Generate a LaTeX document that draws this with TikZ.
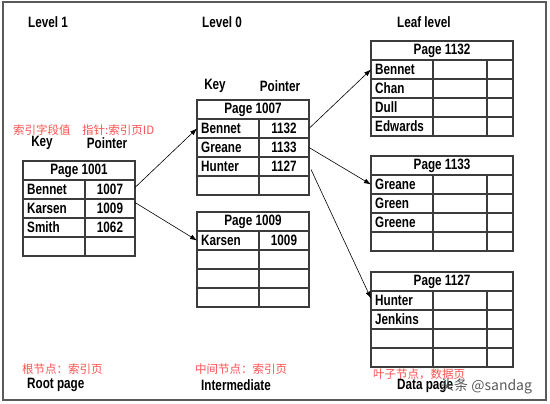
\documentclass[tikz,border=0pt]{standalone}
\usepackage{fontspec}
\setmainfont{Liberation Sans}[FakeStretch=0.78]
\newfontfamily\cjk{Noto Sans CJK SC}
\usetikzlibrary{arrows.meta}
\definecolor{tline}{HTML}{3C3C3C}
\definecolor{redtxt}{HTML}{FF5050}
\definecolor{frame}{HTML}{5A5A5A}
\definecolor{wmark}{HTML}{5A5A5A}
\tikzset{
  lbl/.style={font=\fontsize{15}{17}\selectfont\bfseries, inner sep=0pt},
  cn/.style={font=\cjk\fontsize{11.5}{13}\selectfont, text=redtxt, inner sep=0pt, anchor=west},
  hdr/.style={draw=tline, line width=1.1pt, minimum height=19pt, inner sep=0pt, outer sep=0pt, anchor=north west, font=\fontsize{15}{17}\selectfont\bfseries},
  rowc/.style={draw=tline, line width=1.1pt, minimum height=19pt, inner sep=0pt, outer sep=0pt, anchor=north west},
  keyt/.style={lbl, anchor=west},
  ptrt/.style={lbl, anchor=center},
  divl/.style={draw=tline, line width=1.1pt},
  arr/.style={draw=black, line width=0.6pt, -{Latex[length=7pt,width=5pt]}},
}
\begin{document}
\begin{tikzpicture}[x=1pt,y=-1pt]
\useasboundingbox (0,0) rectangle (550,404);
\draw[frame, line width=1.3pt] (3,2) rectangle (546,400);

% headings
\node[lbl, anchor=west] (lv1) at (28,22) {Level 1};
\node[lbl, anchor=west] (lv0) at (202,22) {Level 0};
\node[lbl, anchor=west] (lvl) at (397,22) {Leaf level};

\node[lbl] (key1) at (42,143) {Key};
\node[lbl] (ptr1) at (107,143) {Pointer};
\node[lbl] (key0) at (215,86) {Key};
\node[lbl] (ptr0) at (280,86) {Pointer};

\node[cn] (cnkey) at (13,130) {索引字段值};
\node[cn] (cnptr) at (82,130) {指针:索引页ID};

% Page 1001
\node[hdr, minimum width=112pt] (pa) at (23,161) {Page 1001};
\foreach \i in {1,...,4} \node[rowc, minimum width=112pt] (pa-\i) at (23,{161+19*\i}) {};
\draw[divl] ([xshift=62pt]pa-1.north west) -- ([xshift=62pt]pa-4.south west);
\node[keyt] (pa-k1) at ([xshift=4pt]pa-1.west) {Bennet};
\node[ptrt] (pa-p1) at ([xshift=87pt]pa-1.west) {1007};
\node[keyt] (pa-k2) at ([xshift=4pt]pa-2.west) {Karsen};
\node[ptrt] (pa-p2) at ([xshift=87pt]pa-2.west) {1009};
\node[keyt] (pa-k3) at ([xshift=4pt]pa-3.west) {Smith};
\node[ptrt] (pa-p3) at ([xshift=87pt]pa-3.west) {1062};

% Page 1007
\node[hdr, minimum width=112pt] (pb) at (197,100) {Page 1007};
\foreach \i in {1,...,4} \node[rowc, minimum width=112pt] (pb-\i) at (197,{100+19*\i}) {};
\draw[divl] ([xshift=62pt]pb-1.north west) -- ([xshift=62pt]pb-4.south west);
\node[keyt] (pb-k1) at ([xshift=4pt]pb-1.west) {Bennet};
\node[ptrt] (pb-p1) at ([xshift=87pt]pb-1.west) {1132};
\node[keyt] (pb-k2) at ([xshift=4pt]pb-2.west) {Greane};
\node[ptrt] (pb-p2) at ([xshift=87pt]pb-2.west) {1133};
\node[keyt] (pb-k3) at ([xshift=4pt]pb-3.west) {Hunter};
\node[ptrt] (pb-p3) at ([xshift=87pt]pb-3.west) {1127};

% Page 1009
\node[hdr, minimum width=112pt] (pc) at (197,212) {Page 1009};
\foreach \i in {1,...,4} \node[rowc, minimum width=112pt] (pc-\i) at (197,{212+19*\i}) {};
\draw[divl] ([xshift=62pt]pc-1.north west) -- ([xshift=62pt]pc-4.south west);
\node[keyt] (pc-k1) at ([xshift=4pt]pc-1.west) {Karsen};
\node[ptrt] (pc-p1) at ([xshift=87pt]pc-1.west) {1009};

% Page 1132
\node[hdr, minimum width=142pt] (pd) at (371,41) {Page 1132};
\foreach \i in {1,...,4} \node[rowc, minimum width=142pt] (pd-\i) at (371,{41+19*\i}) {};
\draw[divl] ([xshift=62pt]pd-1.north west) -- ([xshift=62pt]pd-4.south west);
\draw[divl] ([xshift=116pt]pd-1.north west) -- ([xshift=116pt]pd-4.south west);
\node[keyt] (pd-k1) at ([xshift=4pt]pd-1.west) {Bennet};
\node[keyt] (pd-k2) at ([xshift=4pt]pd-2.west) {Chan};
\node[keyt] (pd-k3) at ([xshift=4pt]pd-3.west) {Dull};
\node[keyt] (pd-k4) at ([xshift=4pt]pd-4.west) {Edwards};

% Page 1133
\node[hdr, minimum width=142pt] (pe) at (371,156) {Page 1133};
\foreach \i in {1,...,4} \node[rowc, minimum width=142pt] (pe-\i) at (371,{156+19*\i}) {};
\draw[divl] ([xshift=62pt]pe-1.north west) -- ([xshift=62pt]pe-4.south west);
\draw[divl] ([xshift=116pt]pe-1.north west) -- ([xshift=116pt]pe-4.south west);
\node[keyt] (pe-k1) at ([xshift=4pt]pe-1.west) {Greane};
\node[keyt] (pe-k2) at ([xshift=4pt]pe-2.west) {Green};
\node[keyt] (pe-k3) at ([xshift=4pt]pe-3.west) {Greene};

% Page 1127
\node[hdr, minimum width=142pt] (pf) at (371,272) {Page 1127};
\foreach \i in {1,...,4} \node[rowc, minimum width=142pt] (pf-\i) at (371,{272+19*\i}) {};
\draw[divl] ([xshift=62pt]pf-1.north west) -- ([xshift=62pt]pf-4.south west);
\draw[divl] ([xshift=116pt]pf-1.north west) -- ([xshift=116pt]pf-4.south west);
\node[keyt] (pf-k1) at ([xshift=4pt]pf-1.west) {Hunter};
\node[keyt] (pf-k2) at ([xshift=4pt]pf-2.west) {Jenkins};

% connectors
\draw[arr] ([yshift=2pt]pa-1.east) -- (pb-1.west);
\draw[arr] ([yshift=6pt]pa-2.east) -- (pc-1.west);
\draw[arr] (pb-1.east) -- (pd-1.west);
\draw[arr] (pb-2.east) -- (pe-1.west);
\draw[arr] ([xshift=2pt,yshift=-3pt]pb-3.east) -- ([yshift=2pt]pf-1.west);

% bottom labels
\node[cn] (cnroot) at (22,369) {根节点：索引页};
\node[cn] (cnmid) at (195,369) {中间节点：索引页};
\node[cn] (cnleaf) at (373,374) {叶子节点，数据页};
\node[lbl, anchor=west] (root) at (27,385) {Root page};
\node[lbl, anchor=west] (mid) at (201,385) {Intermediate};
\node[lbl, anchor=west] (leaf) at (397,386) {Data page};
\node[font=\cjk\fontsize{14}{16}\selectfont, text=wmark, inner sep=0pt, anchor=west] (wm) at (440,386) {头条 @sandag};
\end{tikzpicture}
\end{document}
